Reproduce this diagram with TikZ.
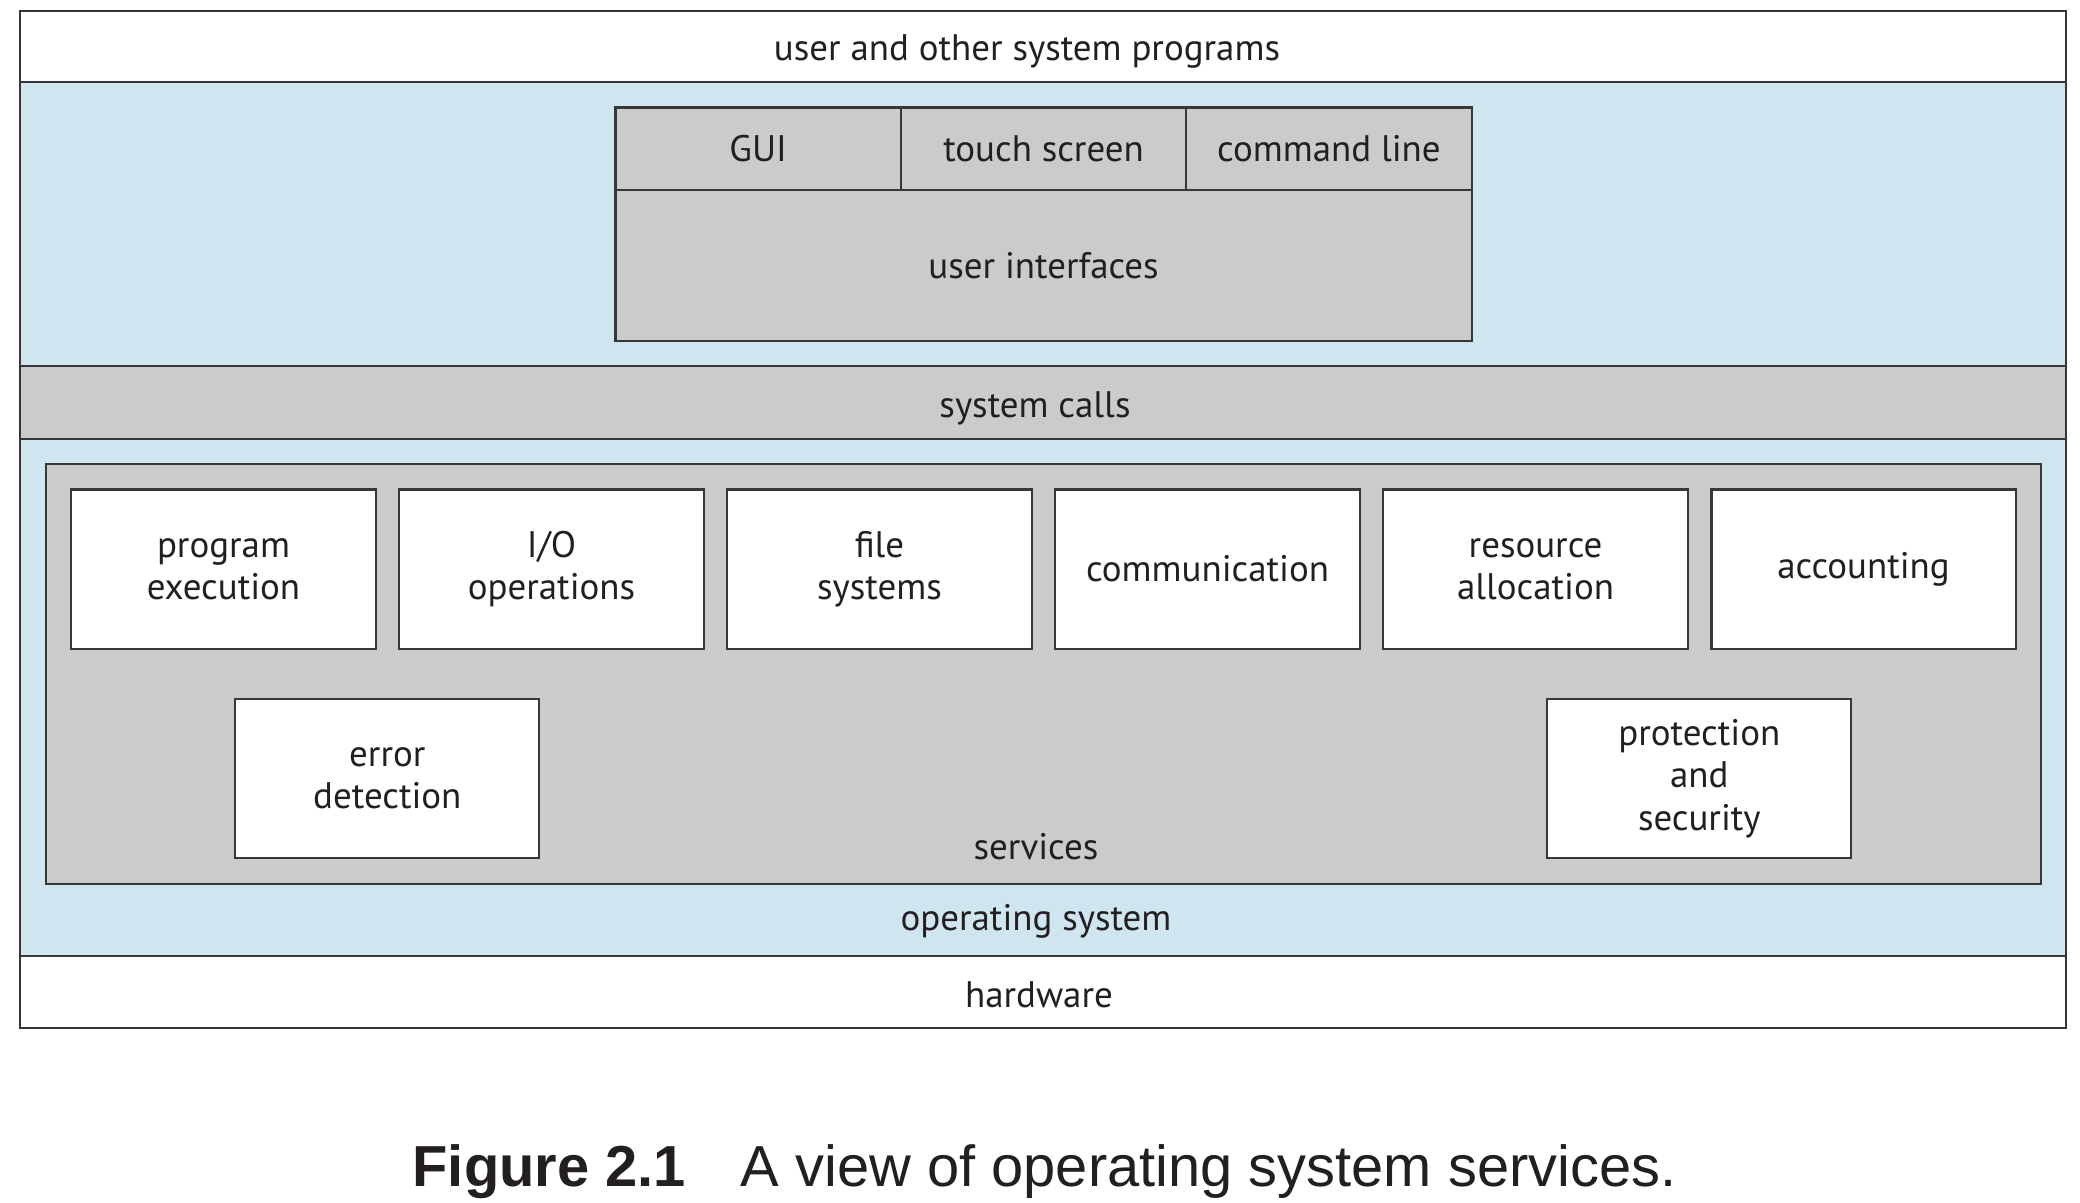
\documentclass[tikz,border=0pt]{standalone}
\usepackage{fontspec}
\setmainfont{PT Sans}
\newfontfamily\capfont{Liberation Sans}
\usetikzlibrary{positioning}
\definecolor{osblue}{RGB}{207,229,239}
\definecolor{boxgray}{RGB}{203,203,203}
\definecolor{edge}{RGB}{55,55,55}
\definecolor{ink}{RGB}{35,31,32}
\tikzset{
  layer/.style={draw=edge, line width=.6pt, minimum width=20.44cm, inner sep=0pt},
  uicell/.style={draw=edge, line width=.6pt, fill=boxgray, minimum width=2.852cm, minimum height=.825cm, inner sep=0pt, outer sep=0pt},
  svcbox/.style={draw=edge, line width=.6pt, fill=white, minimum width=3.04cm, minimum height=1.59cm, inner sep=0pt, align=center},
  txt/.style={inner sep=0pt}
}

\begin{document}
\begin{tikzpicture}[x=.01cm, y=-.01cm, text=ink, font=\fontsize{10.5}{12}\selectfont]
\useasboundingbox[fill=white] (0,0) rectangle (2080,1202);
% layers, top to bottom
\node[layer, fill=osblue, minimum height=8.74cm] (os) at (1043,519) {};
\node[layer, fill=white, minimum height=.714cm] (progs) at (1043,46.3) {};
\node[layer, fill=boxgray, minimum height=.73cm] (calls) at (1043,402.5) {};
\node[layer, fill=white, minimum height=.72cm] (hw) at (1043,992) {};
\node[txt] (progslbl) at (1027,51) {user and other system programs};
\node[txt] (callslbl) at (1035,408) {system calls};
\node[txt] (oslbl) at (1036,921) {operating system};
\node[txt] (hwlbl) at (1039,995) {hardware};

% user interfaces
\node[uicell, anchor=north west] (gui) at (615.5,107.5) {GUI};
\node[uicell, right=0pt of gui] (touch) {touch screen};
\node[uicell, right=0pt of touch] (cmd) {command line};
\node[uicell, below=0pt of touch, minimum width=8.556cm, minimum height=1.51cm] (ui) {user interfaces};

% services
\node[draw=edge, line width=.6pt, fill=boxgray, minimum width=19.94cm, minimum height=4.195cm] (services) at (1043.2,673.8) {};
\node[txt] (svclbl) at (1036,847) {services};
\foreach \n/\t [count=\i] in {exec/{program\\execution}, io/{I/O\\operations}, files/{file\\systems},
    comm/{communication}, alloc/{resource\\allocation}, acct/{accounting}}
  \node[svcbox] (\n) at ({223.5+(\i-1)*328},569) {\t};
\node[svcbox] (err) at (387.3,778.5) {error\\detection};
\node[svcbox] (prot) at (1699.3,778.5) {protection\\and\\security};

% caption
\node[font=\capfont\fontsize{16.45}{19}\selectfont] (caption) at (1044.5,1172)
  {\textbf{Figure 2.1}\hspace{.95em}A view of operating system services.};
\end{tikzpicture}
\end{document}
